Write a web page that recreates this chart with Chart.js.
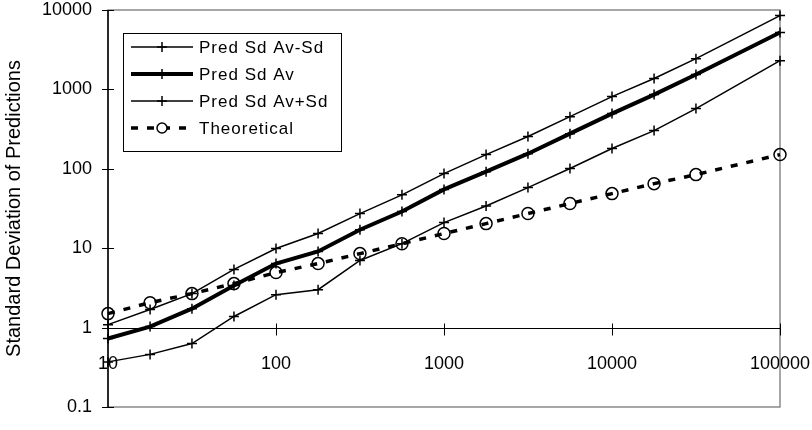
<!DOCTYPE html>
<html>
<head>
<meta charset="utf-8">
<script src="https://cdn.jsdelivr.net/npm/chart.js@4.4.1/dist/chart.umd.min.js"></script>
<style>
  html, body { margin: 0; padding: 0; background: #fff; }
  #wrap { width: 812px; height: 430px; }
</style>
</head>
<body>
<div id="wrap"><canvas id="sdChart" width="812" height="430"></canvas></div>
<script>
// sample sizes (x axis)
const sampleSizes = [10, 17.8, 31.6, 56.2, 100, 178, 316, 562, 1000, 1780, 3160, 5620, 10000, 17800, 31600, 100000];

// standard deviation of predictions
const predAvMinusSd = [0.37, 0.46, 0.63, 1.38, 2.6, 3.0, 7.0, 11.4, 21, 34, 58, 101, 180, 303, 573, 2300];
const predAv        = [0.73, 1.03, 1.73, 3.4, 6.4, 9.1, 17.1, 29, 55, 92, 155, 277, 496, 860, 1540, 5200];
const predAvPlusSd  = [1.09, 1.69, 2.68, 5.4, 9.9, 15.3, 27.3, 47, 87, 151, 255, 454, 811, 1370, 2440, 8500];
const theoretical   = [1.5, 2.06, 2.68, 3.58, 4.93, 6.4, 8.55, 11.4, 15.3, 20.4, 27.3, 36.5, 48.7, 65, 84.5, 151];

const yTicks = [0.1, 1, 10, 100, 1000, 10000];
const xTicks = [10, 100, 1000, 10000, 100000];

const seriesLabels = ['Pred Sd Av-Sd', 'Pred Sd Av', 'Pred Sd Av+Sd', 'Theoretical'];

Chart.defaults.font.family = "'Liberation Sans', Arial, sans-serif";
Chart.defaults.color = '#000';

function toPoints(values) {
    return values.map((v, i) => ({ x: sampleSizes[i], y: v }));
}

// frame, axis lines and crossing tick marks
const axisDecor = {
    id: 'axisDecor',
    beforeDatasetsDraw(chart) {
        const { ctx, chartArea: a, scales } = chart;
        const y1 = Math.round(scales.y.getPixelForValue(1)) + 0.5;
        ctx.save();
        ctx.strokeStyle = '#8a8a8a';
        ctx.lineWidth = 1.5;
        ctx.strokeRect(a.left, a.top, a.right - a.left, a.bottom - a.top);

        ctx.strokeStyle = '#000';
        ctx.lineWidth = 1.5;
        ctx.beginPath();
        ctx.moveTo(a.left, a.top);
        ctx.lineTo(a.left, a.bottom);
        ctx.stroke();

        ctx.lineWidth = 1;
        ctx.beginPath();
        ctx.moveTo(a.left, y1);
        ctx.lineTo(a.right, y1);
        yTicks.forEach(v => {
            const py = Math.round(scales.y.getPixelForValue(v)) + 0.5;
            ctx.moveTo(a.left - 6, py);
            ctx.lineTo(a.left + 6, py);
        });
        xTicks.forEach(v => {
            const px = Math.round(scales.x.getPixelForValue(v)) + 0.5;
            ctx.moveTo(px, y1 - 5);
            ctx.lineTo(px, y1 + 7);
        });
        ctx.stroke();
        ctx.restore();
    }
};

// legend box inside the plot
const boxLegend = {
    id: 'boxLegend',
    afterDraw(chart) {
        const { ctx, chartArea: a } = chart;
        const bx = a.left + 15, by = a.top + 23, bw = 218, bh = 118;
        ctx.save();
        ctx.fillStyle = '#fff';
        ctx.fillRect(bx, by, bw, bh);
        ctx.strokeStyle = '#000';
        ctx.lineWidth = 1;
        ctx.strokeRect(bx + 0.5, by + 0.5, bw, bh);

        chart.data.datasets.forEach((ds, i) => {
            const cy = by + 14 + i * 27;
            const x0 = bx + 8, x1 = bx + 70, xm = (x0 + x1) / 2;
            ctx.strokeStyle = '#000';
            ctx.lineWidth = ds.borderWidth;
            ctx.setLineDash(ds.borderDash || []);
            ctx.beginPath();
            ctx.moveTo(x0, cy);
            ctx.lineTo(x1, cy);
            ctx.stroke();
            ctx.setLineDash([]);
            ctx.lineWidth = 1.5;
            if (ds.pointStyle === 'circle') {
                ctx.fillStyle = '#fff';
                ctx.beginPath();
                ctx.arc(xm, cy, 5, 0, Math.PI * 2);
                ctx.fill();
                ctx.stroke();
            } else {
                ctx.beginPath();
                ctx.moveTo(xm - 5, cy); ctx.lineTo(xm + 5, cy);
                ctx.moveTo(xm, cy - 5); ctx.lineTo(xm, cy + 5);
                ctx.stroke();
            }
            ctx.fillStyle = '#000';
            ctx.font = "17px 'Liberation Sans', Arial, sans-serif";
            ctx.letterSpacing = '1px';
            ctx.textBaseline = 'middle';
            ctx.fillText(ds.label, x1 + 6, cy + 1);
            ctx.letterSpacing = '0px';
        });
        ctx.restore();
    }
};

function lineSet(label, values, width) {
    return {
        label: label,
        data: toPoints(values),
        borderColor: '#000',
        backgroundColor: '#000',
        borderWidth: width,
        pointStyle: 'cross',
        pointRadius: 5,
        pointBorderWidth: 1.5,
        pointBorderColor: '#000',
        clip: false
    };
}

const ctx = document.getElementById('sdChart').getContext('2d');
const chart = new Chart(ctx, {
    type: 'line',
    data: {
        datasets: [
            lineSet(seriesLabels[0], predAvMinusSd, 1.5),
            lineSet(seriesLabels[1], predAv, 4),
            lineSet(seriesLabels[2], predAvPlusSd, 1.5),
            {
                label: seriesLabels[3],
                data: toPoints(theoretical),
                borderColor: '#000',
                borderWidth: 3.5,
                borderDash: [7, 9],
                pointStyle: 'circle',
                pointRadius: 6,
                pointBorderWidth: 1.5,
                pointBorderColor: '#000',
                pointBackgroundColor: 'rgba(255,255,255,0)',
                clip: false
            }
        ]
    },
    options: {
        responsive: false,
        animation: false,
        layout: { padding: { left: 0, right: 32, top: 10, bottom: 23 } },
        plugins: {
            legend: { display: false },
            tooltip: { enabled: false }
        },
        scales: {
            x: {
                type: 'logarithmic',
                position: { y: 1 },
                min: 10,
                max: 100000,
                grid: { display: false, drawTicks: false },
                border: { display: false },
                afterBuildTicks: scale => { scale.ticks = xTicks.map(v => ({ value: v })); },
                afterFit: scale => {
                    scale.height = 0;
                    scale.paddingLeft = 0;
                    scale.paddingRight = 0;
                },
                ticks: {
                    autoSkip: false,
                    maxRotation: 0,
                    padding: 26,
                    font: { size: 18 },
                    callback: v => String(v)
                }
            },
            y: {
                type: 'logarithmic',
                min: 0.1,
                max: 10000,
                grid: { display: false, drawTicks: false },
                border: { display: false },
                afterBuildTicks: scale => { scale.ticks = yTicks.map(v => ({ value: v })); },
                afterFit: scale => {
                    scale.width = 108;
                    scale.paddingTop = 0;
                    scale.paddingBottom = 0;
                },
                ticks: {
                    autoSkip: false,
                    padding: 16,
                    font: { size: 18 },
                    callback: v => String(v)
                },
                title: {
                    display: true,
                    text: 'Standard Deviation of Predictions',
                    font: { size: 20 },
                    padding: { top: 2, bottom: 0 }
                }
            }
        }
    },
    plugins: [axisDecor, boxLegend]
});
</script>
</body>
</html>
